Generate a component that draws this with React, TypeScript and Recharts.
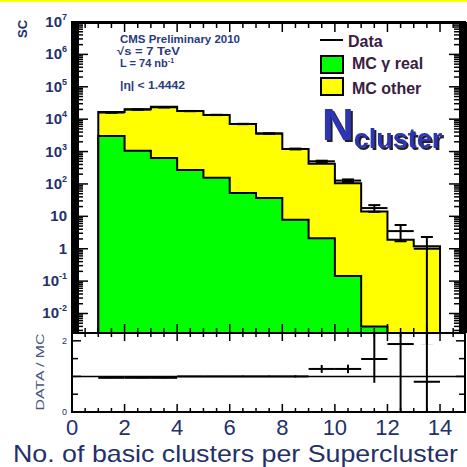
import { ComposedChart, Area, Scatter, ErrorBar, XAxis, YAxis, ReferenceLine } from 'recharts';

// bin edges (No. of basic clusters), histogram contents per bin
const binEdges = [1, 2, 3, 4, 5, 6, 7, 8, 9, 10, 11, 12, 13, 14];
const mcTotal = [16600, 20400, 24000, 17800, 13500, 7100, 3600, 1200, 420, 105, 14, 1.9, 1.2];
const mcGammaReal = [3000, 1050, 630, 270, 155, 53, 37, 7.8, 2.1, 0.145, 0.004];
const dataCounts = [16000, 19800, 23300, 17800, 13500, 7100, 3600, 1200, 500, 127, 18, 3.5, 1];
const dataErrLow = [126, 141, 153, 133, 116, 84, 60, 35, 22, 11, 4.2, 1.8, 0.999];
const dataErrHigh = [126, 141, 153, 133, 116, 84, 60, 35, 22, 11, 4.2, 1.9, 1.3];
const ratioValues = [0.96, 0.96, 0.96, 1.0, 1.0, 1.0, 1.0, 1.0, 1.21, 1.21, 1.49, 1.91, 0.85];
const ratioErrLow = [0.01, 0.01, 0.01, 0.01, 0.01, 0.02, 0.02, 0.03, 0.11, 0.12, 0.67, 1.91, 0.85];
const ratioErrHigh = [0.01, 0.01, 0.01, 0.01, 0.01, 0.02, 0.02, 0.03, 0.11, 0.12, 1.5, 1.5, 1.5];

const xTickLabels = [0, 2, 4, 6, 8, 10, 12, 14];
const logDecades = [-3, -2, -1, 0, 1, 2, 3, 4, 5, 6];
const ratioTicks = [0, 0.5, 1, 1.5, 2];
const ratioTickLabels = [0, 2];

const LOG_MIN = 0.0025;
const LOG_MAX = 1e7;
const X_MAX = 14.95;
const R_MAX = 2.22;

// geometry of the panels
const PL = 72;
const PR = 465;
const PW = PR - PL;
const MT = 22;
const MB = 333;
const RB = 412;

const FONT = '"Liberation Sans", Arial, Helvetica, sans-serif';
const INK = '#24306a';

const xTicks: number[] = [];
for (let v = 0; v <= 14.5; v += 0.5) xTicks.push(v);
const logTicks: number[] = [];
logDecades.forEach(e => {
  for (let m = 1; m <= 9; m++) {
    const v = Number((m * Math.pow(10, e)).toPrecision(3));
    if (v >= LOG_MIN && v <= LOG_MAX) logTicks.push(v);
  }
});
logTicks.push(LOG_MAX);

function stepSeries(values: number[]) {
  const pts = [{ x: binEdges[0], y: LOG_MIN }];
  values.forEach((v, i) => pts.push({ x: binEdges[i], y: v }));
  const n = values.length;
  pts.push({ x: binEdges[n], y: values[n - 1] });
  pts.push({ x: binEdges[n], y: LOG_MIN });
  return pts;
}

const totalSteps = stepSeries(mcTotal);
const gammaSteps = stepSeries(mcGammaReal);
const dataPoints = dataCounts.map((v, i) => ({
  x: binEdges[i] + 0.5, y: v, ex: 0.5, ey: [dataErrLow[i], dataErrHigh[i]],
}));
const ratioPoints = ratioValues.map((v, i) => ({
  x: binEdges[i] + 0.5, y: v, ex: 0.5, ey: [ratioErrLow[i], ratioErrHigh[i]],
}));

const NoShape = () => <g />;

const isDecade = (v: number) => Math.abs(Math.log10(v) - Math.round(Math.log10(v))) < 1e-6;

const MainYTick = (props: any) => {
  const { x, y, payload } = props;
  const v = payload.value;
  const major = isDecade(v);
  const len = major ? 16 : 11;
  const e = Math.round(Math.log10(v));
  return (
    <g>
      <line x1={x} y1={y} x2={x + len} y2={y} stroke="#000" strokeWidth={1.5} />
      <line x1={x + PW} y1={y} x2={x + PW - len} y2={y} stroke="#000" strokeWidth={1.5} />
      {major && e >= -2 && (
        <text x={x - 5} y={y + 5} textAnchor="end" fontSize={15} fontWeight="bold" fill={INK} fontFamily={FONT}>
          {e === 0 ? '1' : '10'}
          {e !== 0 && e !== 1 && <tspan fontSize={9} dy={-7}>{e}</tspan>}
        </text>
      )}
    </g>
  );
};

const MainXTick = (props: any) => {
  const { x, y, payload } = props;
  const major = payload.value % 2 === 0;
  const len = major ? 9 : 5;
  return (
    <g>
      <line x1={x} y1={y} x2={x} y2={y - len} stroke="#000" strokeWidth={1.5} />
      <line x1={x} y1={MT} x2={x} y2={MT + len + 1} stroke="#000" strokeWidth={1.5} />
    </g>
  );
};

const RatioYTick = (props: any) => {
  const { x, y, payload } = props;
  const v = payload.value;
  const major = Number.isInteger(v);
  const len = major ? 9 : 6;
  return (
    <g>
      <line x1={x} y1={y} x2={x + len} y2={y} stroke="#000" strokeWidth={1.5} />
      <line x1={x + PW} y1={y} x2={x + PW - len} y2={y} stroke="#000" strokeWidth={1.5} />
      {ratioTickLabels.includes(v) && (
        <text x={x - 5} y={y + 3} textAnchor="end" fontSize={9} fill={INK} fontFamily={FONT}>{v}</text>
      )}
    </g>
  );
};

const RatioXTick = (props: any) => {
  const { x, y, payload } = props;
  const v = payload.value;
  const major = v % 2 === 0;
  const len = major ? 8 : 4;
  return (
    <g>
      <line x1={x} y1={y} x2={x} y2={y - len} stroke="#000" strokeWidth={1.5} />
      <line x1={x} y1={y - (RB - MB)} x2={x} y2={y - (RB - MB) + len} stroke="#000" strokeWidth={1.5} />
      {xTickLabels.includes(v) && (
        <text x={x} y={y + 23} textAnchor="middle" fontSize={22} fill={INK} fontFamily={FONT}>{v}</text>
      )}
    </g>
  );
};

export default function App() {
  return (
    <div style={{ position: 'absolute', left: 0, top: 0, width: 467, height: 467, background: '#fff' }}>
      <div style={{ position: 'absolute', left: 0, top: 0 }}>
        <ComposedChart width={467} height={MB + 12} margin={{ top: MT, right: 467 - PR, bottom: 0, left: 0 }}>
          <XAxis dataKey="x" type="number" domain={[0, X_MAX]} allowDataOverflow ticks={xTicks} interval={0}
            tickSize={0} tickMargin={0} axisLine={false} tick={MainXTick} height={12} />
          <YAxis type="number" scale="log" domain={[LOG_MIN, LOG_MAX]} allowDataOverflow ticks={logTicks} interval={0}
            tickSize={0} tickMargin={0} axisLine={false} tick={MainYTick} width={PL} />
          <Area data={totalSteps} type="stepAfter" dataKey="y" stroke="#000" strokeWidth={2} fill="#ffff00"
            fillOpacity={1} dot={false} activeDot={false} isAnimationActive={false} />
          <Area data={gammaSteps} type="stepAfter" dataKey="y" stroke="#000" strokeWidth={2} fill="#00ff00"
            fillOpacity={1} dot={false} activeDot={false} isAnimationActive={false} />
          <Scatter data={dataPoints} dataKey="y" shape={NoShape} isAnimationActive={false}>
            <ErrorBar dataKey="ex" direction="x" width={0} stroke="#000" strokeWidth={2} />
            <ErrorBar dataKey="ey" direction="y" width={6} stroke="#000" strokeWidth={2} />
          </Scatter>
        </ComposedChart>
      </div>
      <div style={{ position: 'absolute', left: 0, top: MB }}>
        <ComposedChart width={467} height={467 - MB} margin={{ top: 0, right: 467 - PR, bottom: 0, left: 0 }}>
          <XAxis dataKey="x" type="number" domain={[0, X_MAX]} allowDataOverflow ticks={xTicks} interval={0}
            tickSize={0} tickMargin={0} axisLine={false} tick={RatioXTick} height={467 - RB} />
          <YAxis type="number" domain={[0, R_MAX]} allowDataOverflow ticks={ratioTicks} interval={0}
            tickSize={0} tickMargin={0} axisLine={false} tick={RatioYTick} width={PL} />
          <ReferenceLine y={1} stroke="#000" strokeWidth={1.5} />
          <Scatter data={ratioPoints} dataKey="y" shape={NoShape} isAnimationActive={false}>
            <ErrorBar dataKey="ex" direction="x" width={0} stroke="#000" strokeWidth={2} />
            <ErrorBar dataKey="ey" direction="y" width={0} stroke="#000" strokeWidth={2} />
          </Scatter>
        </ComposedChart>
      </div>
      <svg width={467} height={467} style={{ position: 'absolute', left: 0, top: 0, pointerEvents: 'none' }} fontFamily={FONT}>
        <defs>
          <filter id="nshadow" x="-10%" y="-10%" width="130%" height="140%">
            <feDropShadow dx={2} dy={2} stdDeviation={0.6} floodColor="#222" floodOpacity={1} />
          </filter>
        </defs>
        <rect x={0} y={0} width={467} height={2} fill="#ffff00" />
        <rect x={PL} y={MT} width={PW} height={MB - MT} fill="none" stroke="#000" strokeWidth={2} />
        <rect x={PL} y={MT - 1} width={PW} height={3} fill="#000" />
        <rect x={PL} y={MT} width={7} height={MB - MT} fill="#000" />
        <rect x={459} y={MT} width={8} height={MB - MT} fill="#000" />
        <rect x={PL} y={MB} width={PW} height={RB - MB} fill="none" stroke="#000" strokeWidth={2} />

        <text transform="translate(22,29) rotate(-90)" textAnchor="middle" dominantBaseline="central"
          fontSize={13} fontWeight="bold" fill={INK}>SC</text>

        <text x={120} y={43} fontSize={11} fontWeight="bold" fill="#2a3a80" textLength={120} lengthAdjust="spacingAndGlyphs">CMS Preliminary 2010</text>
        <text x={117} y={55} fontSize={11} fontWeight="bold" fill="#2a3a80" textLength={63} lengthAdjust="spacingAndGlyphs">√s = 7 TeV</text>
        <text x={120} y={67} fontSize={11} fontWeight="bold" fill="#2a3a80">L = 74 nb<tspan fontSize={7} dy={-4}>-1</tspan></text>
        <text x={120} y={89} fontSize={11} fontWeight="bold" fill="#2a3a80" textLength={65} lengthAdjust="spacingAndGlyphs">|η| &lt; 1.4442</text>

        <line x1={320} y1={40} x2={343} y2={40} stroke="#000" strokeWidth={2} />
        <text x={348} y={46.5} fontSize={16} fontWeight="bold" fill="#3a2040">Data</text>
        <rect x={321} y={56} width={22} height={17} fill="#00ff00" stroke="#000" strokeWidth={2} />
        <text x={352} y={68.5} fontSize={16} fontWeight="bold" fill="#3a2040">MC γ real</text>
        <rect x={321} y={78} width={22} height={17} fill="#ffff00" stroke="#000" strokeWidth={2} />
        <text x={352} y={93.5} fontSize={16} fontWeight="bold" fill="#3a2040">MC other</text>

        <text x={322} y={140} fontSize={44} fontWeight="bold" fill="#2d35b5" filter="url(#nshadow)">N<tspan fontSize={27} dy={8}>cluster</tspan></text>

        <text transform="translate(40,372) rotate(-90)" textAnchor="middle" dominantBaseline="central"
          fontSize={11} fill="#4a5585" textLength={77} lengthAdjust="spacingAndGlyphs">DATA / MC</text>

        <text x={13} y={462} fontSize={24} fill={INK} textLength={445} lengthAdjust="spacingAndGlyphs">No. of basic clusters per Supercluster</text>
      </svg>
    </div>
  );
}
